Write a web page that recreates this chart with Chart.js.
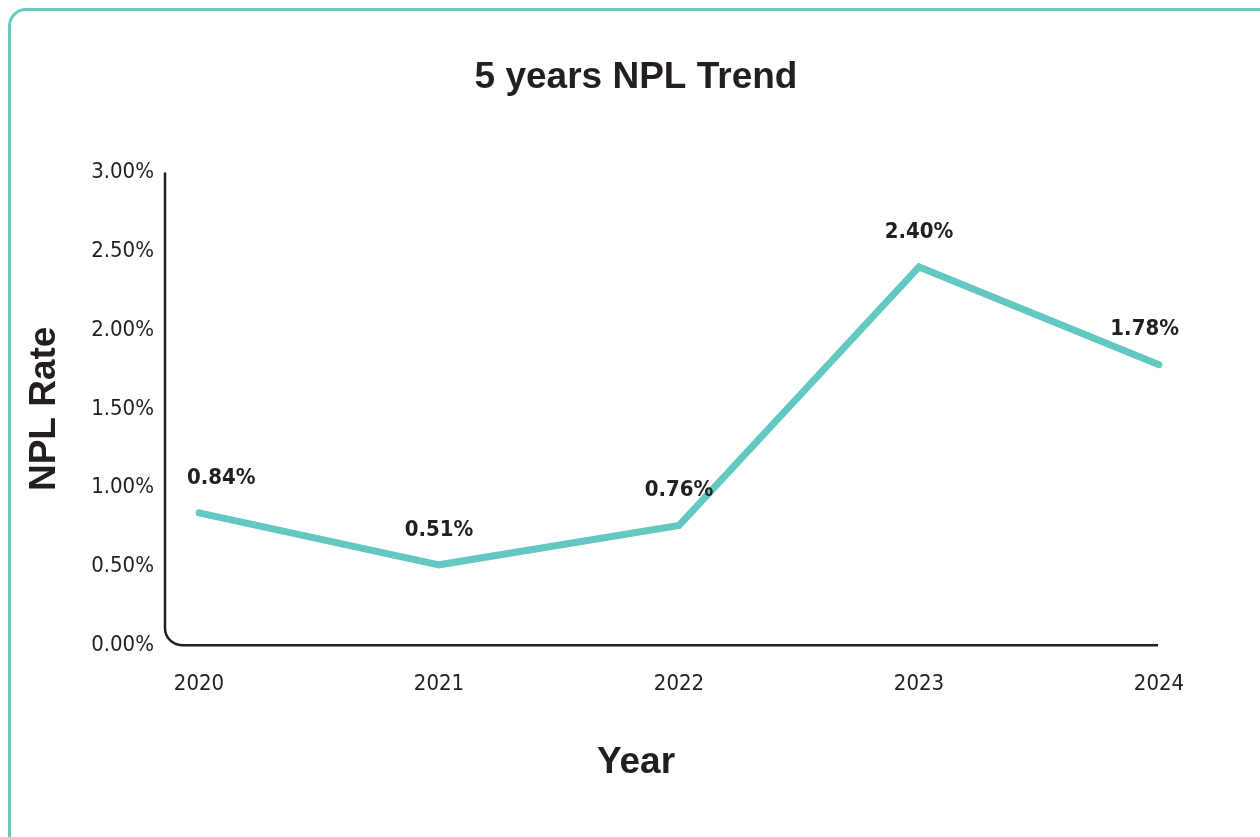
<!DOCTYPE html>
<html lang="en">
<head>
    <meta charset="UTF-8">
    <title>5 years NPL Trend</title>
    <script src="https://cdn.jsdelivr.net/npm/chart.js"></script>
    <style>
        html, body { margin: 0; padding: 0; overflow: hidden; background: #fff; }
        #card {
            position: absolute; left: 8px; top: 8px; width: 1270px; height: 850px;
            border: 3px solid #6ccac4; border-radius: 18px; box-sizing: border-box;
        }
        #npl-chart { position: absolute; left: 0; top: 0; }
    </style>
</head>
<body>
    <div id="card"></div>
    <canvas id="npl-chart" width="1260" height="837"></canvas>

    <script>
        // chart data
        const years = ['2020', '2021', '2022', '2023', '2024'];
        const nplRates = [0.84, 0.51, 0.76, 2.40, 1.78];
        const yMin = 0;
        const yMax = 3;
        const yStep = 0.5;

        const inkColor = '#231f20';
        const lineColor = '#63c7c2';
        const narrowFont = "'Liberation Sans Narrow', 'Arial Narrow', 'DejaVu Sans Condensed', sans-serif";
        const boldFont = "'Liberation Sans', Arial, sans-serif";

        // draws the L shaped axis with a rounded corner
        const axisFrame = {
            id: 'axisFrame',
            beforeDatasetsDraw(chart) {
                const { ctx, chartArea } = chart;
                const x0 = chartArea.left - 34;
                const r = 17;
                ctx.save();
                ctx.strokeStyle = inkColor;
                ctx.lineWidth = 2.5;
                ctx.beginPath();
                ctx.moveTo(x0, chartArea.top);
                ctx.lineTo(x0, chartArea.bottom - r);
                ctx.arcTo(x0, chartArea.bottom, x0 + r, chartArea.bottom, r);
                ctx.lineTo(chartArea.right - 1, chartArea.bottom);
                ctx.stroke();
                ctx.restore();
            }
        };

        // value labels above each point
        const valueLabels = {
            id: 'valueLabels',
            afterDatasetsDraw(chart) {
                const { ctx, chartArea } = chart;
                const meta = chart.getDatasetMeta(0);
                ctx.save();
                ctx.font = 'bold 22px ' + narrowFont;
                ctx.fillStyle = inkColor;
                ctx.textAlign = 'center';
                ctx.textBaseline = 'middle';
                meta.data.forEach((pt, i) => {
                    const text = nplRates[i].toFixed(2) + '%';
                    const w = ctx.measureText(text).width;
                    let x = pt.x;
                    const leftBound = chartArea.left - 12;
                    const rightBound = chartArea.right + 20;
                    if (x - w / 2 < leftBound) x = leftBound + w / 2;
                    if (x + w / 2 > rightBound) x = rightBound - w / 2;
                    ctx.fillText(text, x, pt.y - 35);
                });
                ctx.restore();
            }
        };

        const ctx = document.getElementById('npl-chart').getContext('2d');
        new Chart(ctx, {
            type: 'line',
            data: {
                labels: years,
                datasets: [{
                    label: 'NPL Rate',
                    data: nplRates,
                    borderColor: lineColor,
                    borderWidth: 7,
                    borderCapStyle: 'round',
                    borderJoinStyle: 'miter',
                    pointRadius: 0,
                    pointHoverRadius: 0,
                    tension: 0,
                    fill: false
                }]
            },
            options: {
                responsive: false,
                animation: false,
                layout: {
                    padding: { top: 0, left: 12, right: 0, bottom: 0 }
                },
                plugins: {
                    legend: { display: false },
                    tooltip: { enabled: false },
                    title: {
                        display: true,
                        text: '5 years NPL Trend',
                        color: inkColor,
                        font: { family: boldFont, size: 37, weight: 'bold' },
                        padding: { top: 56, bottom: 72 }
                    },
                    // axis name under the x axis, centred on the card
                    subtitle: {
                        display: true,
                        position: 'bottom',
                        text: 'Year',
                        color: inkColor,
                        font: { family: boldFont, size: 37, weight: 'bold' },
                        padding: { top: 17, bottom: 52 }
                    }
                },
                scales: {
                    x: {
                        offset: false,
                        border: { display: false },
                        grid: { display: false, drawTicks: false },
                        ticks: {
                            color: inkColor,
                            padding: 26,
                            maxRotation: 0,
                            font: { family: narrowFont, size: 22 }
                        }
                    },
                    y: {
                        min: yMin,
                        max: yMax,
                        border: { display: false },
                        grid: { display: false, drawTicks: false },
                        afterFit(scale) { scale.width = 187; },
                        ticks: {
                            stepSize: yStep,
                            color: inkColor,
                            padding: 45,
                            font: { family: narrowFont, size: 22 },
                            callback: v => v.toFixed(2) + '%'
                        },
                        title: {
                            display: true,
                            text: 'NPL Rate',
                            color: inkColor,
                            font: { family: boldFont, size: 37, weight: 'bold' },
                            padding: { top: 11, bottom: 0 }
                        }
                    },
                    // empty right axis, keeps room for the last label
                    yRight: {
                        position: 'right',
                        display: true,
                        border: { display: false },
                        grid: { display: false, drawTicks: false },
                        ticks: { display: false },
                        afterFit(scale) { scale.width = 101; }
                    }
                }
            },
            plugins: [axisFrame, valueLabels]
        });
    </script>
</body>
</html>
